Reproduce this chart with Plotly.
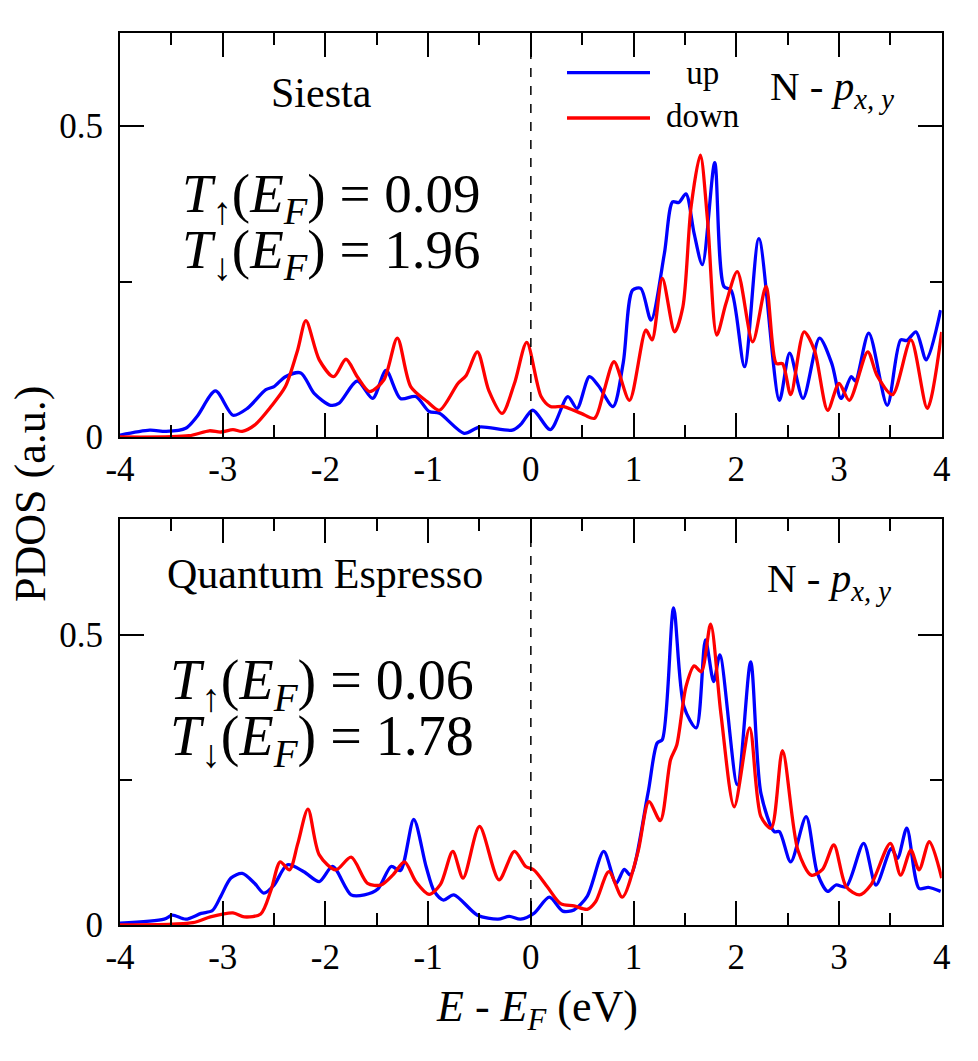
import plotly.graph_objects as go

# ---------------- data ----------------
siesta_up_x = [-4.00, -3.71, -3.55, -3.36, -3.25, -3.07, -2.90, -2.76, -2.58, -2.50, -2.39, -2.24, -2.11,
               -1.95, -1.87, -1.69, -1.54, -1.41, -1.27, -1.12, -0.99, -0.89, -0.65, -0.50, -0.18, -0.10,
               0.02, 0.19, 0.36, 0.45, 0.57, 0.66, 0.80, 0.90, 0.99, 1.07, 1.17, 1.30, 1.38, 1.44, 1.51,
               1.59, 1.67, 1.79, 1.88, 1.95, 2.08, 2.22, 2.42, 2.52, 2.65, 2.81, 2.93, 3.02, 3.12, 3.16,
               3.29, 3.47, 3.60, 3.66, 3.75, 3.85, 3.99]
siesta_up_y = [0.003, 0.011, 0.009, 0.014, 0.033, 0.074, 0.035, 0.046, 0.076, 0.081, 0.097, 0.103, 0.070,
               0.051, 0.054, 0.090, 0.062, 0.107, 0.062, 0.065, 0.041, 0.038, 0.006, 0.016, 0.011, 0.020,
               0.043, 0.012, 0.065, 0.046, 0.097, 0.082, 0.049, 0.120, 0.236, 0.239, 0.188, 0.295, 0.378,
               0.377, 0.391, 0.327, 0.277, 0.441, 0.242, 0.236, 0.113, 0.319, 0.059, 0.135, 0.062, 0.159,
               0.118, 0.062, 0.097, 0.090, 0.167, 0.051, 0.156, 0.155, 0.169, 0.124, 0.204]

siesta_down_x = [-4.00, -3.33, -3.13, -3.02, -2.90, -2.81, -2.69, -2.53, -2.39, -2.27, -2.19, -2.06, -1.92,
                 -1.80, -1.69, -1.57, -1.43, -1.30, -1.17, -1.01, -0.89, -0.71, -0.63, -0.52, -0.41, -0.28,
                 -0.16, -0.04, 0.10, 0.19, 0.32, 0.49, 0.62, 0.71, 0.81, 0.96, 1.12, 1.18, 1.28, 1.40, 1.48,
                 1.56, 1.65, 1.72, 1.81, 1.90, 2.01, 2.16, 2.29, 2.39, 2.45, 2.53, 2.66, 2.76, 2.89, 3.00,
                 3.10, 3.28, 3.37, 3.52, 3.70, 3.86, 4.00]
siesta_down_y = [0.000, 0.002, 0.010, 0.008, 0.012, 0.009, 0.019, 0.049, 0.081, 0.140, 0.187, 0.124, 0.097,
                 0.125, 0.097, 0.073, 0.092, 0.159, 0.081, 0.057, 0.043, 0.086, 0.099, 0.137, 0.075, 0.038,
                 0.086, 0.152, 0.065, 0.049, 0.049, 0.038, 0.030, 0.073, 0.121, 0.059, 0.172, 0.156, 0.255,
                 0.169, 0.209, 0.370, 0.453, 0.349, 0.164, 0.215, 0.266, 0.153, 0.242, 0.118, 0.118, 0.068,
                 0.169, 0.140, 0.043, 0.086, 0.059, 0.137, 0.099, 0.068, 0.156, 0.046, 0.169]

qe_up_x = [-4.00, -3.57, -3.49, -3.36, -3.21, -3.10, -3.02, -2.92, -2.81, -2.69, -2.60, -2.50, -2.37, -2.21,
           -2.06, -1.93, -1.75, -1.62, -1.49, -1.36, -1.27, -1.14, -1.02, -0.94, -0.85, -0.75, -0.52, -0.32,
           -0.21, -0.10, 0.03, 0.18, 0.31, 0.42, 0.55, 0.71, 0.83, 0.91, 0.97, 1.14, 1.23, 1.28, 1.39, 1.49,
           1.61, 1.70, 1.78, 1.84, 2.01, 2.14, 2.24, 2.37, 2.42, 2.53, 2.68, 2.79, 2.89, 2.97, 3.07, 3.24,
           3.36, 3.51, 3.57, 3.66, 3.78, 3.87, 3.99]
qe_up_y = [0.003, 0.010, 0.017, 0.010, 0.020, 0.025, 0.049, 0.081, 0.089, 0.072, 0.055, 0.069, 0.104, 0.092,
           0.075, 0.101, 0.052, 0.052, 0.062, 0.101, 0.094, 0.182, 0.101, 0.058, 0.043, 0.052, 0.017, 0.010,
           0.015, 0.010, 0.020, 0.048, 0.024, 0.026, 0.050, 0.127, 0.072, 0.096, 0.086, 0.227, 0.314, 0.320,
           0.547, 0.377, 0.340, 0.492, 0.420, 0.466, 0.242, 0.454, 0.227, 0.161, 0.161, 0.109, 0.187, 0.089,
           0.058, 0.069, 0.066, 0.141, 0.069, 0.132, 0.115, 0.167, 0.063, 0.065, 0.058]

qe_down_x = [-4.00, -3.29, -3.12, -2.90, -2.79, -2.63, -2.53, -2.44, -2.35, -2.27, -2.17, -2.06, -1.90, -1.75,
             -1.59, -1.46, -1.34, -1.23, -1.12, -0.99, -0.88, -0.76, -0.66, -0.50, -0.31, -0.16, -0.05, 0.03,
             0.16, 0.29, 0.42, 0.55, 0.63, 0.76, 0.89, 1.04, 1.15, 1.26, 1.36, 1.42, 1.51, 1.59, 1.66, 1.75,
             1.85, 1.98, 2.13, 2.24, 2.34, 2.45, 2.60, 2.73, 2.84, 2.95, 3.07, 3.20, 3.31, 3.50, 3.60, 3.70,
             3.78, 3.88, 4.00]
qe_down_y = [0.000, 0.004, 0.014, 0.021, 0.014, 0.019, 0.060, 0.109, 0.095, 0.140, 0.200, 0.121, 0.095, 0.117,
             0.072, 0.069, 0.087, 0.109, 0.075, 0.053, 0.070, 0.127, 0.081, 0.170, 0.078, 0.127, 0.101, 0.095,
             0.066, 0.037, 0.033, 0.027, 0.040, 0.092, 0.048, 0.124, 0.213, 0.180, 0.285, 0.310, 0.411, 0.447,
             0.437, 0.519, 0.365, 0.204, 0.340, 0.187, 0.167, 0.301, 0.129, 0.086, 0.096, 0.138, 0.066, 0.052,
             0.069, 0.141, 0.086, 0.129, 0.095, 0.144, 0.081]

x_tick_vals = [-4, -3, -2, -1, 0, 1, 2, 3, 4]
x_tick_text = ["-4", "-3", "-2", "-1", "0", "1", "2", "3", "4"]
x_minor_vals = [-3.5, -2.5, -1.5, -0.5, 0.5, 1.5, 2.5, 3.5]
y_tick_vals = [0, 0.5]
y_tick_text = ["0", "0.5"]
y_minor_vals = [0.25]

UP = "#0000ff"
DOWN = "#ff0000"
FONT = "Liberation Serif, Times New Roman, Times, serif"
W, H = 978, 1061

def px(x):
    return x / W

def py(y):
    return 1 - y / H

fig = go.Figure()
for xs, ys, col, nm, ax in [
    (siesta_up_x, siesta_up_y, UP, "up", ("x", "y")),
    (siesta_down_x, siesta_down_y, DOWN, "down", ("x", "y")),
    (qe_up_x, qe_up_y, UP, "up", ("x2", "y2")),
    (qe_down_x, qe_down_y, DOWN, "down", ("x2", "y2")),
]:
    fig.add_trace(go.Scatter(x=xs, y=ys, mode="lines", name=nm, showlegend=False,
                             xaxis=ax[0], yaxis=ax[1],
                             line=dict(color=col, width=3.3, shape="spline", smoothing=0.8)))

xdom = [120 / W, 941.7 / W]
common = dict(showline=True, linewidth=2, linecolor="black", mirror="ticks",
              ticks="inside", ticklen=24, tickwidth=2, tickcolor="black",
              showgrid=False, zeroline=False, automargin=False,
              tickfont=dict(family=FONT, size=35, color="black"))
xcommon = dict(common, range=[-4, 4], tickmode="array", tickvals=x_tick_vals, ticktext=x_tick_text,
               minor=dict(tickmode="array", tickvals=x_minor_vals, ticks="inside", ticklen=12,
                          tickwidth=2, tickcolor="black", showgrid=False),
               ticklabelstandoff=0, domain=xdom)
ycommon = dict(common, tickmode="array", tickvals=y_tick_vals, ticktext=y_tick_text,
               minor=dict(tickmode="array", tickvals=y_minor_vals, ticks="inside", ticklen=12,
                          tickwidth=2, tickcolor="black", showgrid=False),
               ticklabelstandoff=8)

fig.update_layout(
    width=W, height=H, margin=dict(l=0, r=0, t=0, b=0, autoexpand=False),
    paper_bgcolor="white", plot_bgcolor="white",
    font=dict(family=FONT, color="black"),
    xaxis=dict(xcommon, anchor="y"),
    yaxis=dict(ycommon, anchor="x", range=[0, 0.65], domain=[py(437), py(32.7)]),
    xaxis2=dict(xcommon, anchor="y2"),
    yaxis2=dict(ycommon, anchor="x2", range=[0, 0.70], domain=[py(925), py(519.3)]),
)

# Fermi level dashed lines
for xr, yr in [("x", "y domain"), ("x2", "y2 domain")]:
    fig.add_shape(type="line", xref=xr, yref=yr, x0=0, x1=0, y0=0, y1=1,
                  line=dict(color="black", width=1.5, dash="dash"))

# manual legend
fig.add_shape(type="line", xref="paper", yref="paper", x0=px(567), x1=px(650), y0=py(72.7), y1=py(72.7),
              line=dict(color=UP, width=3.3))
fig.add_shape(type="line", xref="paper", yref="paper", x0=px(567), x1=px(650), y0=py(118), y1=py(118),
              line=dict(color=DOWN, width=3.3))

ann = []
def A(text, x, y, size, xanchor="center", yanchor="middle", angle=0):
    ann.append(dict(text=text, x=px(x), y=py(y), xref="paper", yref="paper", showarrow=False,
                    xanchor=xanchor, yanchor=yanchor, textangle=angle, align="center",
                    font=dict(family=FONT, size=size, color="black")))

A("up<br>down", 702, 95, 33)
A("Siesta", 321, 93, 42)
A("Quantum Espresso", 325, 574, 42)
A("N - <i>p</i><sub><i>x, y</i></sub>", 768, 89, 41, xanchor="left")
A("N - <i>p</i><sub><i>x, y</i></sub>", 765, 581, 41, xanchor="left")
A("<i>T</i><sub>↑</sub>(<i>E</i><sub><i>F</i></sub>) = 0.09", 180, 197, 55, xanchor="left")
A("<i>T</i><sub>↓</sub>(<i>E</i><sub><i>F</i></sub>) = 1.96", 180, 253, 55, xanchor="left")
A("<i>T</i><sub>↑</sub>(<i>E</i><sub><i>F</i></sub>) = 0.06", 168, 684, 56, xanchor="left")
A("<i>T</i><sub>↓</sub>(<i>E</i><sub><i>F</i></sub>) = 1.78", 168, 740, 56, xanchor="left")
A("PDOS (a.u.)", 30, 494, 44, angle=-90)
A("<i>E</i> - <i>E</i><sub><i>F</i></sub> (eV)", 537, 1009, 44)
fig.update_layout(annotations=ann)

fig.write_html("out.html")
